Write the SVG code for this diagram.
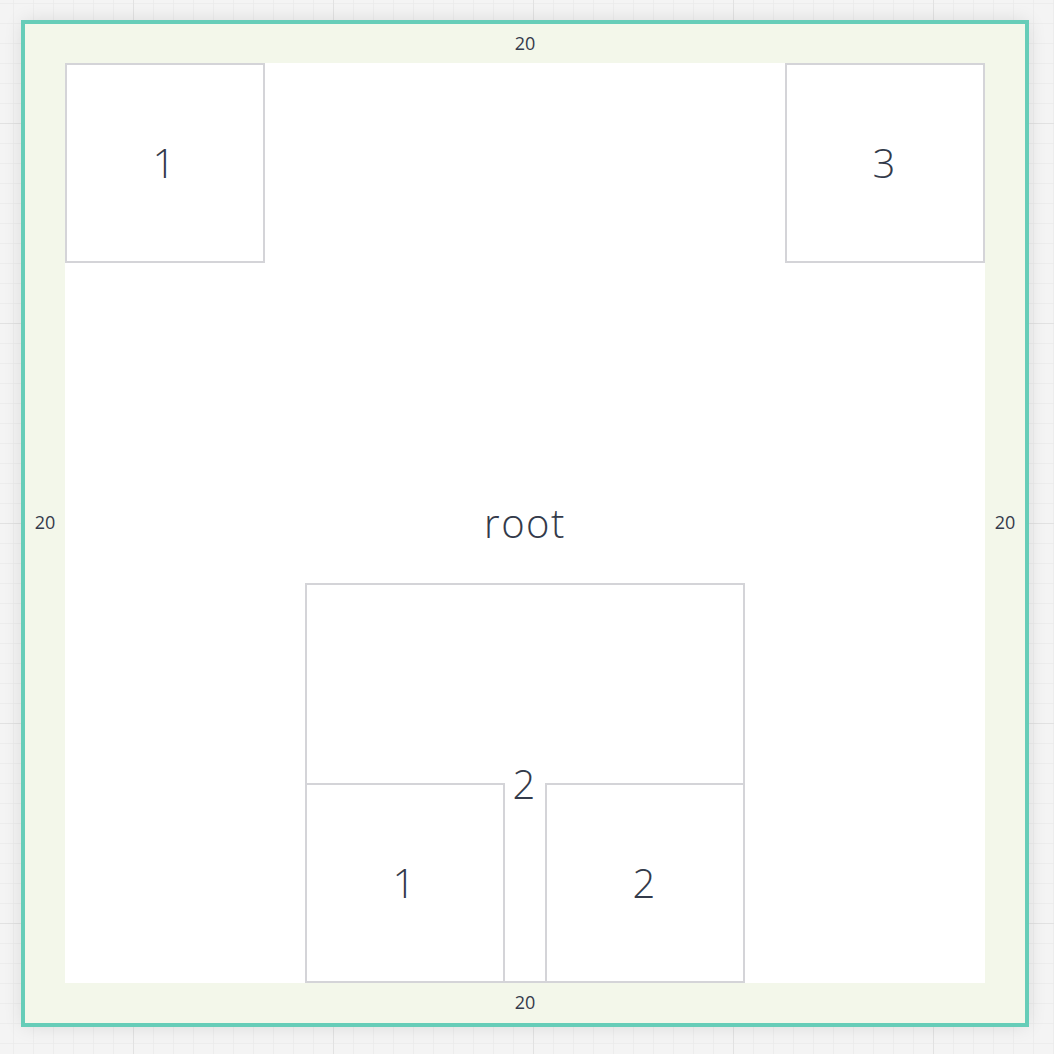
<svg xmlns="http://www.w3.org/2000/svg" width="1054" height="1054" viewBox="0 0 1054 1054">
<defs>
<pattern id="minor" x="13" y="3" width="20" height="20" patternUnits="userSpaceOnUse">
<path d="M0 0V20M0 0H20" fill="none" stroke="#ebebeb" stroke-width="1.5"/>
</pattern>
<pattern id="major" x="133" y="123" width="200" height="200" patternUnits="userSpaceOnUse">
<path d="M0 0V200M0 0H200" fill="none" stroke="#e2e2e2" stroke-width="2"/>
</pattern>
<filter id="shadow" x="-10%" y="-10%" width="120%" height="120%">
<feGaussianBlur stdDeviation="10"/>
</filter>
<style>
.node{fill:#ffffff;stroke:#d4d4d8;stroke-width:2}
.big{font-family:"Open Sans","Liberation Sans",sans-serif;font-weight:300;font-size:40px;fill:#333a4a;text-anchor:middle}
.pad{font-family:"Open Sans","Liberation Sans",sans-serif;font-size:18px;fill:#333a4a;text-anchor:middle}
</style>
</defs>
<rect width="1054" height="1054" fill="#f4f4f4"/>
<rect width="1054" height="1054" fill="url(#minor)"/>
<rect width="1054" height="1054" fill="url(#major)"/>
<rect x="23" y="22" width="1004" height="1003" fill="#000" opacity="0.12" filter="url(#shadow)"/>
<g id="root">
<rect x="23" y="22" width="1004" height="1003" fill="#f3f7ea" stroke="#66cdb8" stroke-width="4"/>
<rect x="65" y="63" width="920" height="920" fill="#ffffff"/>
<text class="big" x="525" y="538" letter-spacing="1.5">root</text>
<text class="pad" x="525" y="50">20</text>
<text class="pad" x="45" y="529">20</text>
<text class="pad" x="1005" y="529">20</text>
<text class="pad" x="525" y="1009">20</text>
</g>
<g id="node1">
<rect class="node" x="66" y="64" width="198" height="198"/>
<text class="big" x="164" y="178">1</text>
</g>
<g id="node3">
<rect class="node" x="786" y="64" width="198" height="198"/>
<text class="big" x="884" y="178">3</text>
</g>
<g id="node2">
<rect class="node" x="306" y="584" width="438" height="398"/>
<text class="big" x="524" y="799">2</text>
</g>
<g id="node2-1">
<rect class="node" x="306" y="784" width="198" height="198"/>
<text class="big" x="404" y="898">1</text>
</g>
<g id="node2-2">
<rect class="node" x="546" y="784" width="198" height="198"/>
<text class="big" x="644" y="898">2</text>
</g>
<g id="connectors"/>
</svg>
